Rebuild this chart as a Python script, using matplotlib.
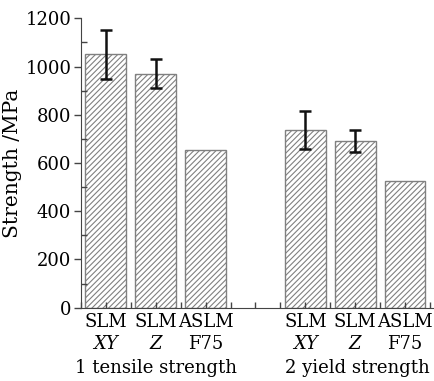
import numpy as np
import matplotlib.pyplot as plt
from matplotlib.transforms import blended_transform_factory

plt.rcParams['font.family'] = ['DejaVu Serif']
plt.rcParams['hatch.color'] = '#8a8a8a'
plt.rcParams['hatch.linewidth'] = 0.8

# data
pos = [0, 1, 2, 4, 5, 6]
strength = [1050, 970, 655, 737, 690, 525]
err = [100, 60, 0, 80, 46, 0]
top_labels = ['SLM', 'SLM', 'ASLM', 'SLM', 'SLM', 'ASLM']
sub_labels = ['XY', 'Z', 'F75', 'XY', 'Z', 'F75']
sub_italic = [True, True, False, True, True, False]
groups = ['1 tensile strength', '2 yield strength']
group_pos = [1, 5.05]

fs = 13

fig = plt.figure(figsize=(4.34, 3.81), dpi=100)
ax = fig.add_axes([0.1866, 0.1924, 0.811, 0.7596])

ax.bar(pos, strength, width=0.82, color='white', edgecolor='#808080',
       linewidth=1.0, hatch='//////')
for p, s, e in zip(pos, strength, err):
    if e > 0:
        ax.errorbar(p, s, yerr=e, fmt='none', ecolor='#111111',
                    elinewidth=1.8, capsize=4, capthick=1.8)

ax.set_xlim(-0.48, 6.56)
ax.set_ylim(0, 1200)
ax.set_yticks(np.arange(0, 1201, 200))
ax.set_yticks(np.arange(100, 1200, 200), minor=True)
ax.set_xticks(np.arange(-0.5, 6.6, 0.5))
ax.set_xticklabels([])
ax.tick_params(axis='y', which='major', direction='out', length=5,
               labelsize=fs, width=1, color='#444444', pad=2)
ax.tick_params(axis='y', which='minor', direction='in', length=4,
               width=1, color='#444444')
ax.tick_params(axis='x', which='major', direction='in', length=4,
               width=1, color='#444444')
ax.spines['top'].set_visible(False)
ax.spines['right'].set_visible(False)
ax.spines['left'].set_color('#444444')
ax.spines['bottom'].set_color('#444444')
ax.set_ylabel('Strength /MPa', fontsize=14.5, labelpad=2)

tr = blended_transform_factory(ax.transData, ax.transAxes)
for p, t, s, it in zip(pos, top_labels, sub_labels, sub_italic):
    ax.text(p, -0.05, t, transform=tr, ha='center', va='center', fontsize=fs)
    ax.text(p, -0.125, s, transform=tr, ha='center', va='center', fontsize=fs,
            fontstyle='italic' if it else 'normal')
for g, gp in zip(groups, group_pos):
    ax.text(gp, -0.21, g, transform=tr, ha='center', va='center', fontsize=fs)

fig.savefig('out.png', dpi=100)
